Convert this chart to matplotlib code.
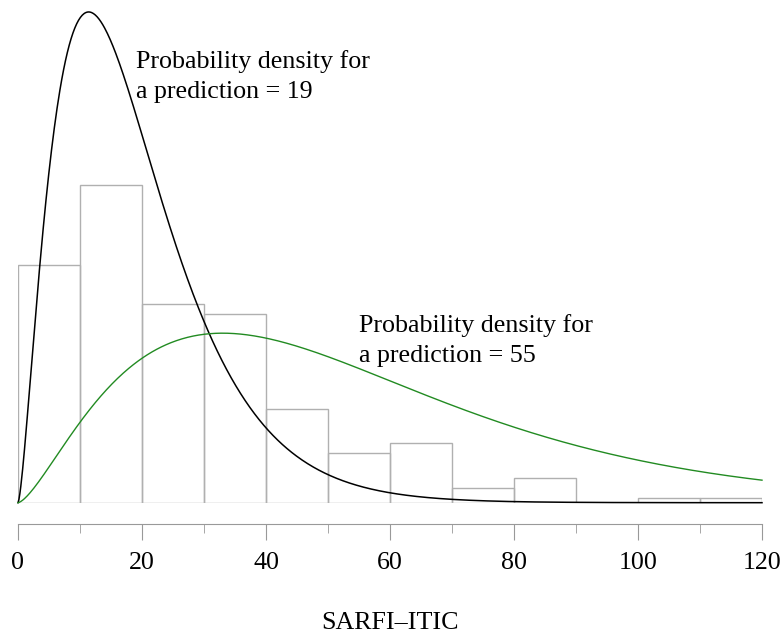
import math
import matplotlib
matplotlib.use("Agg")
import matplotlib.pyplot as plt
import numpy as np

plt.rcParams['font.family'] = ['Liberation Serif', 'DejaVu Serif']

# histogram of observed SARFI-ITIC values (bins of width 10)
bin_edges = [0, 10, 20, 30, 40, 50, 60, 70, 80, 90, 100, 110, 120]
bin_counts = [48, 64, 40, 38, 19, 10, 12, 3, 5, 0, 1, 1]
n_total = 244

# gamma predictive densities
gamma_shape = 2.5
pred_low = 19
pred_high = 55

x_ticks = [0, 20, 40, 60, 80, 100, 120]
x_minor = [10, 30, 50, 70, 90, 110]


def gamma_pdf(x, shape, mean):
    scale = mean / shape
    return x ** (shape - 1) * np.exp(-x / scale) / (math.gamma(shape) * scale ** shape)


fig = plt.figure(figsize=(7.83, 6.33), dpi=100)
ax = fig.add_axes([18 / 783, (633 - 502.7) / 633, 744 / 783, 490.7 / 633])

dens = np.array(bin_counts) / (n_total * 10.0)
ax.hist(bin_edges[:-1], bins=bin_edges, weights=dens, histtype='bar',
        facecolor='none', edgecolor='#b0b0b0', linewidth=1.0)

xs = np.linspace(0, 120, 800)
ax.plot(xs, gamma_pdf(xs, gamma_shape, pred_low), color='black', lw=1.1, clip_on=False)
ax.plot(xs, gamma_pdf(xs, gamma_shape, pred_high), color='#228B22', lw=1.0, clip_on=False)

ax.text(pred_low, (502.7 - 98) / 12095, "Probability density for\na prediction = %d" % pred_low,
        fontsize=18.7, ha='left', va='baseline', linespacing=1.45)
ax.text(pred_high, (502.7 - 362) / 12095, "Probability density for\na prediction = %d" % pred_high,
        fontsize=18.7, ha='left', va='baseline', linespacing=1.45)

ax.set_xlim(0, 120)
ax.set_ylim(0, 490.7 / 12095)
for s in ['top', 'right', 'left']:
    ax.spines[s].set_visible(False)
ax.spines['bottom'].set_position(('outward', 15.3))
ax.spines['bottom'].set_color('#999999')
ax.set_yticks([])
ax.set_xticks(x_ticks)
ax.set_xticks(x_minor, minor=True)
ax.tick_params(axis='x', which='major', length=11.5, color='#999999', labelsize=18.7, pad=8.6)
ax.tick_params(axis='x', which='minor', length=6.5, color='#999999')

fig.text(390 / 783, (633 - 629) / 633, "SARFI\u2013ITIC", fontsize=18.7, ha='center', va='baseline')

fig.savefig("out.png", dpi=100)
